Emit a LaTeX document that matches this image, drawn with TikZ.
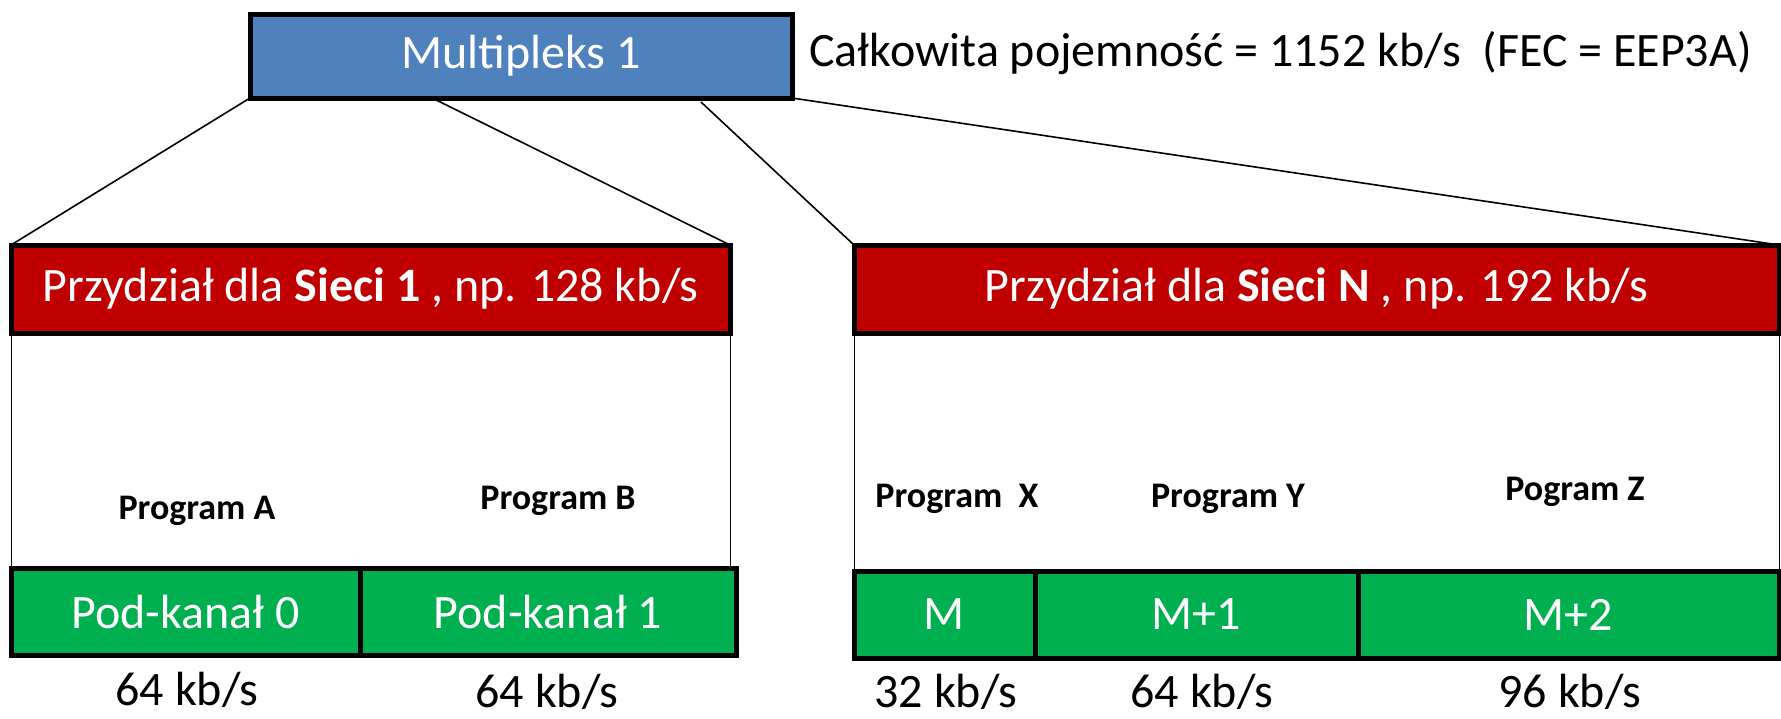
\documentclass[tikz,border=0pt]{standalone}
\usepackage{fontspec}
\setmainfont{Carlito}
\usepackage{tikz}
\usetikzlibrary{calc}
\usepackage{xcolor}
\definecolor{muxblue}{HTML}{4F81BD}
\definecolor{netred}{HTML}{C00000}
\definecolor{subgreen}{HTML}{00B050}

\tikzset{
  box/.style={draw=black, line width=2.5pt, inner sep=0pt, outer sep=0pt, text=white,
    font=\fontsize{24}{28}\selectfont},
  muxbox/.style={box, fill=muxblue, minimum width=271pt, minimum height=42pt},
  netbox/.style={box, fill=netred, minimum height=44pt},
  subbox/.style={box, fill=subgreen, minimum height=43.5pt},
  proglabel/.style={font=\fontsize{18}{21}\selectfont\bfseries},
  ratelabel/.style={font=\fontsize{24}{28}\selectfont},
  link/.style={line width=0.8pt},
  side/.style={line width=0.5pt}
}

\begin{document}
\begin{tikzpicture}[x=0.5pt,y=-0.5pt]
\useasboundingbox (0,0) rectangle (1781,718);

\node [muxbox] (mux) at (521,56) {Multipleks 1};
\node [ratelabel, anchor=west, inner sep=0pt] (total) at (809,53) {Całkowita pojemność = 1152 kb/s \ (FEC = EEP3A)};

\node [netbox, minimum width=359.5pt] (siec1) at (370.5,289) {Przydział dla \textbf{Sieci 1} , np. 128 kb/s};
\node [netbox, minimum width=462.5pt] (siecn) at (1316.5,289) {Przydział dla \textbf{Sieci N} , np. 192 kb/s};

% pod-kanaly sieci 1
\node [subbox, minimum width=174.5pt] (kanal0) at (185.5,611.5) {Pod-kanał 0};
\node [subbox, minimum width=188pt] (kanal1) at (548,611.5) {Pod-kanał 1};
% pod-kanaly sieci N
\node [subbox, minimum width=90.5pt] (kanalm) at (944.5,614.5) {M};
\node [subbox, minimum width=161.5pt] (kanalm1) at (1196.5,614.5) {M+1};
\node [subbox, minimum width=210.5pt] (kanalm2) at (1568.5,614.5) {M+2};

\node [proglabel] (proga) at (197,511) {Program A};
\node [proglabel] (progb) at (558,501) {Program B};
\node [proglabel] (progx) at (957,499) {Program \ X};
\node [proglabel] (progy) at (1228,499) {Program Y};
\node [proglabel] (progz) at (1575,492) {Pogram Z};

\node [ratelabel] (ratea) at (187,690) {64 kb/s};
\node [ratelabel] (rateb) at (547,692) {64 kb/s};
\node [ratelabel] (ratex) at (946,692) {32 kb/s};
\node [ratelabel] (ratey) at (1202,692) {64 kb/s};
\node [ratelabel] (ratez) at (1570,692) {96 kb/s};

% linie od multipleksu
\draw [link] (mux.south west) -- (siec1.north west);
\draw [link] ($(mux.south west)!0.336!(mux.south east)$) -- (siec1.north east);
\draw [link] ($(mux.south west)!0.832!(mux.south east)+(0,4)$) -- (siecn.north west);
\draw [link] (mux.south east) -- (siecn.north east);

\draw [side] (siec1.south west) -- (kanal0.north west);
\draw [side] (siec1.south east) -- (siec1.south east |- kanal1.north);
\draw [side] (siecn.south west) -- (kanalm.north west);
\draw [side] (siecn.south east) -- (kanalm2.north east);

\end{tikzpicture}
\end{document}
